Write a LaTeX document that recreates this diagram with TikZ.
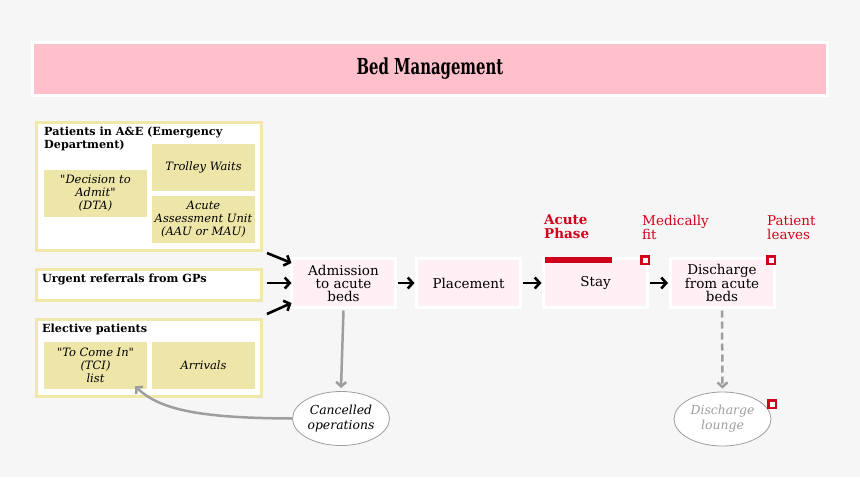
\documentclass[tikz,border=0pt]{standalone}
\usepackage{fontspec}
\setmainfont{DejaVu Serif}
\newfontfamily\condfont{DejaVu Serif Condensed}
\usepackage{tikz}
\usetikzlibrary{positioning,shapes.geometric,arrows.meta}

\definecolor{canvas}{HTML}{F6F6F6}
\definecolor{bannerpink}{HTML}{FFC0CB}
\definecolor{groupline}{HTML}{EFE8AA}
\definecolor{itemfill}{HTML}{EEE6A8}
\definecolor{stagefill}{HTML}{FFF0F5}
\definecolor{alert}{HTML}{D0021B}
\definecolor{sidegray}{HTML}{9E9E9E}

\begin{document}
\begin{tikzpicture}[
  x=1pt, y=-1pt,
  banner/.style={rectangle, draw=white, line width=3pt, fill=bannerpink, minimum width=795pt, minimum height=53pt, inner sep=0pt, font=\condfont\bfseries\fontsize{22}{24}\selectfont},
  group/.style={rectangle, draw=groupline, line width=3pt, fill=white, minimum width=225pt, inner sep=0pt},
  grouptitle/.style={anchor=north west, inner sep=0pt, align=left, font=\bfseries\fontsize{11.2}{12.7}\selectfont},
  item/.style={rectangle, fill=itemfill, minimum width=103pt, minimum height=47pt, inner sep=0pt, align=center, font=\itshape\fontsize{11.5}{13}\selectfont},
  stage/.style={rectangle, draw=white, line width=3pt, fill=stagefill, minimum width=104pt, minimum height=49pt, inner sep=0pt, outer sep=0pt, align=center, font=\fontsize{13.5}{13}\selectfont},
  phase/.style={anchor=north west, inner sep=0pt, align=left, text=alert, font=\fontsize{13.5}{14}\selectfont},
  marker/.style={rectangle, draw=alert, line width=2.5pt, fill=white, minimum size=7.5pt, inner sep=0pt},
  aside/.style={ellipse, draw=sidegray, line width=0.8pt, fill=white, minimum width=97pt, minimum height=54pt, inner sep=0pt, align=center, font=\itshape\fontsize{12.4}{15}\selectfont},
  flow/.style={-{Straight Barb[length=5pt,width=11pt]}, line width=2.6pt, black},
  sideflow/.style={-{Straight Barb[length=4.5pt,width=10pt]}, line width=2.5pt, sidegray}
]
\fill[canvas] (0,0) rectangle (860,477);
\useasboundingbox (0,0) rectangle (860,477);

% title
\node[banner] (title) at (430,69) {\scalebox{0.75}[1]{Bed Management}};

% sources
\node[group, minimum height=128pt] (ae) at (149,186.5) {};
\node[grouptitle] (aetitle) at (44,127) {Patients in A\&E (Emergency\\Department)};
\node[item] (dta) at (95.5,193.5) {\textquotedbl Decision to\\Admit\textquotedbl\\(DTA)};
\node[item] (trolley) at (203.5,167.5) {Trolley Waits};
\node[item] (aau) at (203.5,219.5) {Acute\\Assessment Unit\\(AAU or MAU)};

\node[group, minimum height=31pt] (gp) at (149,285) {};
\node[grouptitle] (gptitle) at (42,274) {Urgent referrals from GPs};

\node[group, minimum height=77pt] (elective) at (149,358) {};
\node[grouptitle] (electivetitle) at (42,324) {Elective patients};
\node[item] (tci) at (95.5,365.5) {\textquotedbl To Come In\textquotedbl\\(TCI)\\list};
\node[item] (arrivals) at (203.5,365.5) {Arrivals};

% pathway
\node[stage] (admit) at (343.5,283) {Admission\\to acute\\beds};
\node[stage] (place) at (468.5,283) {Placement};
\node[stage] (stay) at (595.5,283) {Stay};
\node[stage] (discharge) at (722,283) {Discharge\\from acute\\beds};

\fill[alert] ([xshift=1.5pt,yshift=1.5pt]stay.north west) rectangle ++(67,6);
\node[marker] (fitmark) at ([xshift=-2.5pt,yshift=-1.5pt]stay.north east) {};
\node[marker] (leavemark) at ([xshift=-3pt,yshift=-1.5pt]discharge.north east) {};

\node[phase, font=\bfseries\fontsize{13.5}{14}\selectfont] (acute) at (544,214) {Acute\\Phase};
\node[phase] (fit) at (642,215) {Medically\\fit};
\node[phase] (leaves) at (767,215) {Patient\\leaves};

% side outcomes
\node[aside] (cancelled) at (341,418.5) {Cancelled\\operations};
\node[aside, text=sidegray] (lounge) at (722.5,419) {Discharge\\lounge};
\node[marker] (loungemark) at ([xshift=1pt,yshift=15pt]lounge.east) {};

% arrows
\coordinate (aeout) at (267,253);
\coordinate (gpout) at (267,283);
\coordinate (elout) at (267,314);
\draw[flow] (aeout) -- ([yshift=20pt]admit.west);
\draw[flow] (gpout) -- (admit.west);
\draw[flow] (elout) -- ([yshift=-20pt]admit.west);
\draw[flow] ([xshift=2pt]admit.east) -- ([xshift=-2pt]place.west);
\draw[flow] ([xshift=2pt]place.east) -- ([xshift=-2pt]stay.west);
\draw[flow] ([xshift=2pt]stay.east) -- ([xshift=-2pt]discharge.west);

\draw[sideflow] ([yshift=-3pt]admit.south) -- ([yshift=3pt]cancelled.north);
\draw[sideflow, dashed, dash pattern=on 7pt off 4pt] ([yshift=-3pt]discharge.south) -- ([yshift=3pt]lounge.north);
\coordinate (tcitip) at ([xshift=-12pt,yshift=3pt]tci.south east);
\draw[sideflow] (cancelled.west) .. controls (200,418) and (160,410) .. (tcitip);
\end{tikzpicture}
\end{document}
